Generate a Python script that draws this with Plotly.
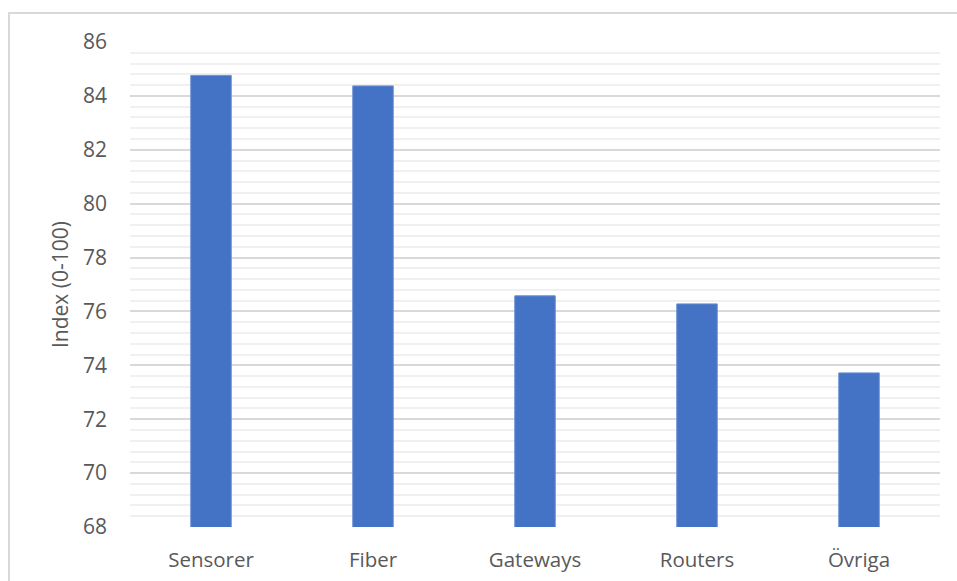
import plotly.graph_objects as go

# Category scores on a 0-100 index
categories = ["Sensorer", "Fiber", "Gateways", "Routers", "Övriga"]
scores = [84.76, 84.37, 76.58, 76.28, 73.72]

y_ticks = [68, 70, 72, 74, 76, 78, 80, 82, 84, 86]
y_title = "Index (0-100)"

W, H = 957, 581
L, R, T, B = 130, 17, 42, 54
plot_w = W - L - R
plot_h = H - T - B

fig = go.Figure(
    go.Bar(
        x=categories,
        y=scores,
        width=0.25,
        marker=dict(color="#4472C4", line=dict(color="#6a8fd2", width=1)),
        hoverinfo="x+y",
    )
)

fig.update_layout(
    width=W,
    height=H,
    margin=dict(l=L, r=R, t=T, b=B),
    plot_bgcolor="white",
    paper_bgcolor="white",
    showlegend=False,
    font=dict(family="Open Sans, Calibri, sans-serif", color="#595959", size=20),
    xaxis=dict(
        automargin=False,
        showgrid=False,
        showline=False,
        zeroline=False,
        ticks="",
        tickfont=dict(size=20.5, color="#595959"),
        ticklabelstandoff=18,
    ),
    yaxis=dict(
        automargin=False,
        range=[68, 86],
        tickvals=y_ticks,
        ticktext=[str(v) for v in y_ticks],
        showgrid=True,
        gridcolor="#d9d9d9",
        gridwidth=1.5,
        zeroline=False,
        showline=False,
        ticks="",
        tickfont=dict(size=21, color="#595959"),
        ticklabelstandoff=22,
        title=dict(text=y_title, font=dict(size=21, color="#595959"), standoff=8),
        minor=dict(
            tick0=68,
            dtick=0.4,
            showgrid=True,
            gridcolor="#f0f0f0",
            gridwidth=1.5,
        ),
    ),
    shapes=[
        # outer chart frame
        dict(
            type="rect",
            xref="paper",
            yref="paper",
            x0=(9 - L) / plot_w,
            x1=(W + 20 - L) / plot_w,
            y0=-(B + 20) / plot_h,
            y1=(H - B - 13) / plot_h,
            line=dict(color="#d9d9d9", width=2),
            fillcolor="rgba(0,0,0,0)",
            layer="below",
        )
    ],
)

fig.write_html("out.html")
